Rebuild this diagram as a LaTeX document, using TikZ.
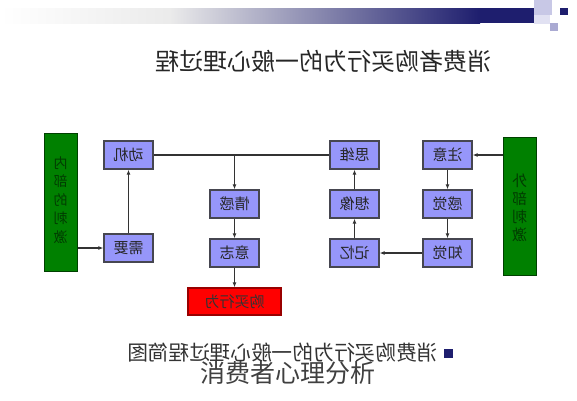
\documentclass[tikz,border=0pt]{standalone}
\usepackage{graphicx}
\usepackage{fontspec}
\newfontfamily\cjk{Noto Sans CJK SC}
\usetikzlibrary{arrows.meta,shadings}
\definecolor{navybar}{RGB}{30,30,110}
\definecolor{peri}{RGB}{150,150,250}
\definecolor{gbox}{RGB}{0,128,0}
\definecolor{gtext}{RGB}{0,60,0}
\definecolor{edgec}{RGB}{70,70,80}
\definecolor{sqa}{RGB}{200,200,230}
\definecolor{sqb}{RGB}{225,225,242}
\definecolor{sqc}{RGB}{170,170,210}
\newcommand\rf[1]{\reflectbox{#1}}
\tikzset{
  pbox/.style={draw=edgec, line width=1.3pt, fill=peri, minimum width=49pt, minimum height=28pt, inner sep=0pt, font=\cjk\fontsize{15}{15}\selectfont, text=black!85},
  gstim/.style={draw=black!50!gbox, line width=1pt, fill=gbox, minimum width=33pt, minimum height=138pt, inner sep=0pt, align=center, text=gtext},
  rbox/.style={draw=red!60!black, line width=1.3pt, fill=red, minimum width=93pt, minimum height=27pt, inner sep=0pt, font=\cjk\fontsize{15}{15}\selectfont, text=black!80},
  conn/.style={draw=black!80, line width=1.2pt},
  arr/.style={conn, -{Latex[length=5pt,width=4pt]}}
}
\begin{document}
\begin{tikzpicture}[x=1pt,y=-1pt]
\useasboundingbox (0,0) rectangle (577,400);
\fill[white] (0,0) rectangle (577,400);
% header bar
\shade[left color=white, right color=black!8!white] (0,8) rectangle (170,23);
\shade[left color=black!8!white, right color=navybar] (170,8) rectangle (480,23);
\fill[navybar] (480,8) rectangle (540,23);
\fill[sqa] (534,0) rectangle (552,15);
\fill[sqb] (534,15) rectangle (550,24);
\fill[navybar] (560,8) rectangle (568,15);
\fill[sqc] (550,23) rectangle (558,31);
% title
\node[font=\cjk\fontsize{24}{24}\selectfont, text=black!85] (title) at (323,61) {\rf{消费者购买行为的一般心理过程}};
% boxes
\node[gstim] (neibu) at (60.5,202) {};
\node[font=\cjk\fontsize{14}{18.5}\selectfont, text=gtext, align=center, inner sep=0pt] (neibut) at (60.5,200) {\rf{内}\\\rf{部}\\\rf{的}\\\rf{刺}\\\rf{激}};
\node[gstim] (waibu) at (519.5,206) {};
\node[font=\cjk\fontsize{15}{18}\selectfont, text=gtext, align=center, inner sep=0pt] (waibut) at (519.5,208) {\rf{外}\\\rf{部}\\\rf{刺}\\\rf{激}};
\node[pbox] (dongji) at (128.5,155) {\rf{动机}};
\node[pbox] (xuyao) at (128.5,248) {\rf{需要}};
\node[pbox] (qinggan) at (234.5,204) {\rf{情感}};
\node[pbox] (yizhi) at (234.5,253) {\rf{意志}};
\node[rbox] (goumai) at (234.5,301.5) {\rf{购买行为}};
\node[pbox] (siwei) at (354.5,155) {\rf{思维}};
\node[pbox] (xiangxiang) at (354.5,204) {\rf{想像}};
\node[pbox] (jiyi) at (354.5,253) {\rf{记忆}};
\node[pbox] (zhuyi) at (447.5,155) {\rf{注意}};
\node[pbox] (ganjue) at (447.5,204) {\rf{感觉}};
\node[pbox] (zhijue) at (447.5,253) {\rf{知觉}};
% connectors
\draw[arr] (neibu.east |- xuyao.west) -- (xuyao.west);
\draw[arr] (xuyao) -- (dongji);
\draw[conn] (siwei.west) -- (dongji.east);
\coordinate (j) at (qinggan |- dongji);
\draw[arr] (j) -- (qinggan);
\draw[arr] (qinggan) -- (yizhi);
\draw[arr] (yizhi) -- (goumai);
\draw[arr] (waibu.west |- zhuyi.east) -- (zhuyi.east);
\draw[arr] (zhuyi) -- (ganjue);
\draw[arr] (ganjue) -- (zhijue);
\draw[arr] (zhijue) -- (jiyi);
\draw[arr] (jiyi) -- (xiangxiang);
\draw[arr] (xiangxiang) -- (siwei);
% bottom text
\fill[navybar] (444,349) rectangle (453,358);
\node[anchor=east, font=\cjk\fontsize{20.7}{21}\selectfont, text=black!80, inner sep=0pt] (sub) at (438,353) {\rf{消费购买行为的一般心理过程简图}};
\node[font=\cjk\fontsize{25}{25}\selectfont, text=black!75] (cap) at (288,373) {消费者心理分析};
\end{tikzpicture}
\end{document}
